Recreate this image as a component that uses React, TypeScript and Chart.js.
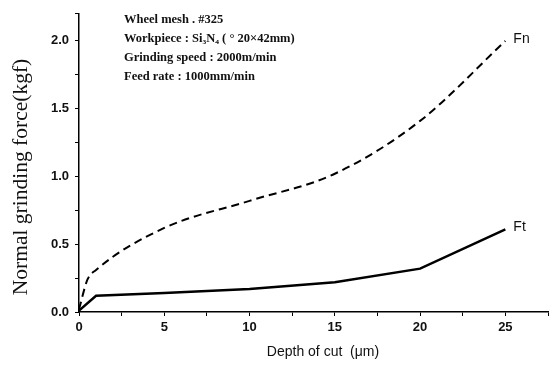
import React, { useEffect, useRef } from "react";
import { Chart, registerables } from "chart.js";

Chart.register(...registerables);

const depthFn = [0, 0.5, 1, 5, 10, 15, 20, 25];
const forceFn = [0.02, 0.24, 0.31, 0.62, 0.82, 1.02, 1.41, 2.0];
const depthFt = [0, 1, 5, 10, 15, 20, 25];
const forceFt = [0.01, 0.12, 0.14, 0.17, 0.22, 0.32, 0.61];
const noteLines = [
  "Wheel mesh . #325",
  "Workpiece : Si\u2083N\u2084 ( \u00b0 20\u00d742mm)",
  "Grinding speed : 2000m/min",
  "Feed rate : 1000mm/min",
];
const yTitle = "Normal grinding force(kgf)";
const xTitle = "Depth of cut  (\u03bcm)";
const seriesNames = ["Fn", "Ft"];

export default function App() {
  const ref = useRef<HTMLCanvasElement | null>(null);
  useEffect(() => {
    if (!ref.current) return;
    const textPlugin = {
      id: "texts",
      afterDraw(chart: any) {
        const ctx = chart.ctx;
        const xs = chart.scales.x;
        const ys = chart.scales.y;
        ctx.save();
        ctx.fillStyle = "#111";
        // notes
        ctx.font = "bold 12.5px 'Liberation Serif', serif";
        ctx.textAlign = "left";
        ctx.textBaseline = "middle";
        noteLines.forEach((t, i) => ctx.fillText(t, 124, 20 + i * 19));
        // series labels
        ctx.font = "14px 'Liberation Sans', sans-serif";
        const lastFn = forceFn[forceFn.length - 1];
        const lastFt = forceFt[forceFt.length - 1];
        ctx.fillText(seriesNames[0], xs.getPixelForValue(25) + 8, ys.getPixelForValue(lastFn) - 2);
        ctx.fillText(seriesNames[1], xs.getPixelForValue(25) + 8, ys.getPixelForValue(lastFt) - 2);
        // x title
        ctx.textAlign = "center";
        ctx.font = "14px 'Liberation Sans', sans-serif";
        ctx.fillText(xTitle, 323, 352);
        // y title
        ctx.translate(21, 177);
        ctx.rotate(-Math.PI / 2);
        ctx.font = "21.5px 'Liberation Serif', serif";
        ctx.fillText(yTitle, 0, 0);
        ctx.restore();
      },
    };
    const chart = new Chart(ref.current, {
      type: "line",
      data: {
        datasets: [
          {
            label: seriesNames[0],
            data: depthFn.map((x, i) => ({ x, y: forceFn[i] })),
            borderColor: "#000",
            borderWidth: 2,
            borderDash: [8, 5],
            pointRadius: 0,
            tension: 0.3,
            cubicInterpolationMode: "monotone",
          },
          {
            label: seriesNames[1],
            data: depthFt.map((x, i) => ({ x, y: forceFt[i] })),
            borderColor: "#000",
            borderWidth: 2.5,
            pointRadius: 0,
            tension: 0,
          },
        ],
      },
      options: {
        animation: false,
        responsive: false,
        layout: { padding: { top: 13, right: 9, left: 0, bottom: 0 } },
        plugins: { legend: { display: false }, tooltip: { enabled: false } },
        scales: {
          x: {
            type: "linear",
            min: 0,
            max: 27.5,
            afterFit: (s: any) => {
              s.height = 53;
            },
            border: { color: "#000", width: 1.5 },
            grid: { drawOnChartArea: false, drawTicks: true, tickLength: 4, color: "#000" },
            ticks: {
              stepSize: 2.5,
              autoSkip: false,
              maxRotation: 0,
              color: "#111",
              font: { family: "'Liberation Sans', sans-serif", size: 13, weight: "bold" },
              padding: 4,
              callback: (v: any) => (Math.abs(v % 5) < 1e-6 ? String(v) : ""),
            },
          },
          y: {
            type: "linear",
            min: 0,
            max: 2.2,
            afterFit: (s: any) => {
              s.width = 79;
            },
            border: { color: "#000", width: 1.5 },
            grid: { drawOnChartArea: false, drawTicks: true, tickLength: 4, color: "#000" },
            ticks: {
              stepSize: 0.25,
              autoSkip: false,
              color: "#111",
              font: { family: "'Liberation Sans', sans-serif", size: 13, weight: "bold" },
              padding: 6,
              callback: (v: any) =>
                Math.abs((v * 2) % 1) < 1e-6 ? Number(v).toFixed(1) : "",
            },
          },
        },
      },
      plugins: [textPlugin],
    } as any);
    return () => chart.destroy();
  }, []);
  return (
    <div style={{ position: "fixed", left: 0, top: 0, width: 557, height: 365, background: "#fff" }}>
      <canvas ref={ref} width={557} height={365} style={{ width: 557, height: 365 }} />
    </div>
  );
}
